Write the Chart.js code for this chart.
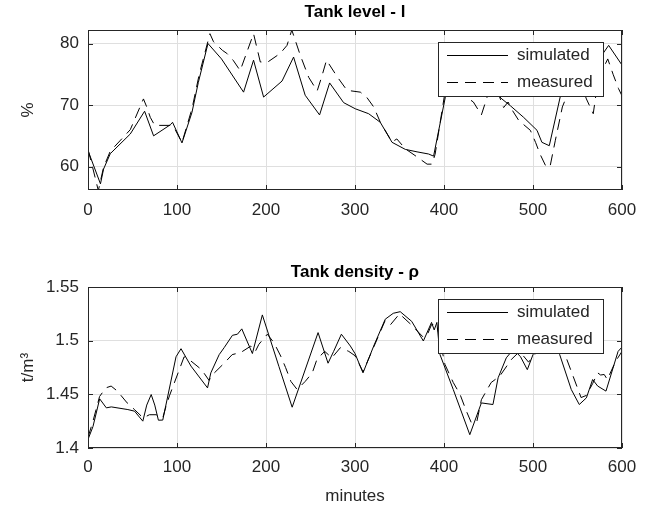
<!DOCTYPE html>
<html>
<head>
<meta charset="utf-8">
<script src="https://cdn.jsdelivr.net/npm/chart.js@4.4.1/dist/chart.umd.min.js"></script>
<style>
  body { margin: 0; background: #fff; }
  #wrap { position: relative; width: 660px; height: 512px; }
  canvas { position: absolute; left: 0; }
</style>
</head>
<body>
<div id="wrap">
  <canvas id="level-chart" width="660" height="256" style="top:0"></canvas>
  <canvas id="density-chart" width="660" height="255" style="top:257px"></canvas>
</div>
<script>
const minuteTicks = [0, 100, 200, 300, 400, 500, 600];
const levelTicks = [60, 70, 80];
const densityTicks = [1.4, 1.45, 1.5, 1.55];

// Tank level (%) - simulated
const levelSimT = [0, 14, 17.5, 25, 47.5, 63.6, 73.7, 92.5, 95, 105.6, 116.8, 124, 134.8, 150, 174.8, 186, 197.3, 218, 231, 244, 260.2, 271.5, 287.2, 300.3, 315.3, 328.4, 341.6, 356.5, 369.7, 382.7, 388.3, 401.5, 412, 425, 440, 455, 465, 474.5, 489.5, 504.5, 510, 518.3, 531, 545, 560, 572, 585, 600];
const levelSim  = [62.6, 57.2, 59.6, 62.1, 65.3, 69.0, 65.0, 66.8, 67.2, 63.85, 68.8, 73.7, 80.0, 77.5, 72.1, 77.3, 71.3, 73.9, 77.8, 71.6, 68.4, 73.6, 70.4, 69.4, 68.6, 67.2, 63.95, 62.8, 62.4, 62.05, 61.7, 71.3, 75, 74, 73, 72.5, 71, 69.9, 68.0, 65.9, 63.95, 63.4, 71.6, 76, 75, 77, 79.7, 76.5];

// Tank level (%) - measured
const levelMeasT = [0, 5, 11.6, 17.5, 25, 47.5, 62.3, 66, 70, 75, 94, 98, 105.6, 117, 125, 137, 141, 151, 156, 163, 171, 186, 193.6, 202, 216, 223.6, 229, 238.5, 248, 257.5, 263, 268, 280, 291, 306, 313, 321, 328.5, 341.6, 347, 356.5, 367.5, 381, 386.5, 390, 401, 413, 425, 433, 442, 450, 458, 467, 472, 477, 484, 497, 503, 508, 514, 519, 525, 533, 545, 555, 560, 567.7, 573, 579, 584, 590, 596, 600];
const levelMeas  = [62.8, 60, 56.1, 59.9, 62.5, 66, 71.0, 69.7, 68, 66.7, 66.7, 66, 63.9, 69.5, 75, 81.6, 80.3, 78.9, 78.4, 77.3, 75.6, 81.6, 77, 77, 78.4, 79.7, 82.2, 78.1, 74.5, 72.3, 74.8, 77.3, 74.6, 72.4, 72.1, 71.3, 69.7, 67.2, 64, 64.5, 62.9, 61.8, 60.4, 60.4, 62, 72, 74, 71.3, 70.5, 68.4, 72, 73, 69.6, 70.5, 69.1, 67.5, 65.9, 63.9, 62, 60.2, 59.9, 64.2, 69.7, 74, 73, 71, 68.6, 74, 76, 77.5, 75, 72.7, 71.5];

// Tank density (t/m3) - simulated
const densSimT = [0, 5.6, 13.1, 20.6, 26.2, 44.8, 52.3, 61.6, 66, 71, 75, 79.1, 84, 98.9, 104.5, 115.7, 134.3, 138, 147.4, 153, 162.3, 167.9, 172.8, 184.7, 195.9, 214.5, 229.4, 258.5, 269.7, 276, 284.7, 294.8, 300, 309, 321, 334, 343, 350.8, 363.7, 376.8, 386, 389, 392, 395.5, 410.4, 429, 442, 455, 460.8, 470, 478, 486, 493.6, 500, 515, 530, 543, 552, 560, 567, 572.7, 582, 595.6, 600];
const densSim  = [1.408, 1.420, 1.4458, 1.4374, 1.4383, 1.4358, 1.4343, 1.425, 1.44, 1.4498, 1.44, 1.4259, 1.426, 1.485, 1.4925, 1.4763, 1.456, 1.470, 1.487, 1.4935, 1.505, 1.506, 1.511, 1.488, 1.524, 1.476, 1.438, 1.5075, 1.479, 1.490, 1.506, 1.495, 1.488, 1.470, 1.495, 1.520, 1.5255, 1.527, 1.518, 1.4997, 1.517, 1.510, 1.517, 1.487, 1.4545, 1.4124, 1.442, 1.4405, 1.4654, 1.484, 1.492, 1.485, 1.473, 1.487, 1.505, 1.487, 1.4545, 1.4405, 1.4467, 1.4638, 1.4577, 1.453, 1.490, 1.494];

// Tank density (t/m3) - measured
const densMeasT = [0, 5.6, 13, 16, 20, 26, 33, 44, 52, 62, 69, 76.6, 84, 87.7, 91.5, 102.6, 108, 115.7, 127.6, 136, 142, 153, 162, 171.7, 183, 188, 192, 201.5, 209, 216.5, 222, 228, 235, 244, 252, 257.4, 266, 274, 283.6, 293, 300, 309, 321, 334, 340, 350, 363, 370, 377, 382, 386, 392, 401, 410.4, 418, 425, 431, 437, 442, 453, 462.7, 475.7, 485, 495, 505, 520, 536, 554, 560, 567, 572.7, 576, 580, 583.5, 593, 600];
const densMeas  = [1.41, 1.425, 1.448, 1.4514, 1.456, 1.4577, 1.453, 1.442, 1.436, 1.428, 1.431, 1.431, 1.428, 1.439, 1.4486, 1.473, 1.485, 1.481, 1.473, 1.463, 1.470, 1.479, 1.487, 1.489, 1.495, 1.490, 1.4966, 1.506, 1.498, 1.4857, 1.475, 1.462, 1.4545, 1.462, 1.470, 1.483, 1.490, 1.484, 1.4935, 1.490, 1.486, 1.471, 1.494, 1.519, 1.515, 1.525, 1.515, 1.509, 1.503, 1.507, 1.515, 1.515, 1.478, 1.461, 1.45, 1.4346, 1.423, 1.425, 1.445, 1.461, 1.467, 1.4825, 1.49, 1.48, 1.49, 1.505, 1.487, 1.447, 1.449, 1.46, 1.470, 1.468, 1.4685, 1.4638, 1.481, 1.49];

const FONT = 'Liberation Sans, Arial, Helvetica, sans-serif';
const AXIS_COLOR = '#262626';
const GRID_COLOR = '#dfdfdf';
const DASH = [11, 7];

const pairs = (xs, ys) => xs.map((x, i) => ({ x, y: ys[i] }));

// matlab style: full box, inward ticks on all sides, boxed legend inside the axes
const matlabAxes = {
  id: 'matlabAxes',
  afterDraw(chart) {
    const { ctx, chartArea: a, scales } = chart;
    ctx.save();
    ctx.strokeStyle = AXIS_COLOR;
    ctx.lineWidth = 1;
    ctx.setLineDash([]);
    ctx.strokeRect(a.left + 0.5, a.top + 0.5, a.right - a.left - 1, a.bottom - a.top - 1);

    const tl = 5;
    ctx.beginPath();
    scales.x.ticks.forEach(t => {
      const px = Math.round(scales.x.getPixelForValue(t.value)) + 0.5;
      ctx.moveTo(px, a.bottom); ctx.lineTo(px, a.bottom - tl);
      ctx.moveTo(px, a.top); ctx.lineTo(px, a.top + tl);
    });
    scales.y.ticks.forEach(t => {
      const py = Math.round(scales.y.getPixelForValue(t.value)) + 0.5;
      ctx.moveTo(a.left, py); ctx.lineTo(a.left + tl, py);
      ctx.moveTo(a.right, py); ctx.lineTo(a.right - tl, py);
    });
    ctx.stroke();

    // legend
    const w = 165, h = 54;
    const x0 = a.right - 19 - w, y0 = a.top + 12;
    ctx.fillStyle = '#fff';
    ctx.fillRect(x0, y0, w, h);
    ctx.strokeRect(x0 + 0.5, y0 + 0.5, w, h);
    ctx.font = '17px ' + FONT;
    ctx.textBaseline = 'middle';
    chart.data.datasets.forEach((ds, i) => {
      const y = Math.round(y0 + 13 + i * 27) + 0.5;
      ctx.strokeStyle = ds.borderColor;
      ctx.setLineDash(ds.borderDash || []);
      ctx.beginPath();
      ctx.moveTo(x0 + 9, y);
      ctx.lineTo(x0 + 70, y);
      ctx.stroke();
      ctx.fillStyle = AXIS_COLOR;
      ctx.fillText(ds.label, x0 + 79, y);
    });
    ctx.restore();
  }
};

function createChart(id, cfg) {
  const el = document.getElementById(id);
  return new Chart(el.getContext('2d'), {
    type: 'line',
    data: {
      datasets: [{
        label: 'simulated',
        data: pairs(cfg.simT, cfg.sim),
        borderColor: '#000',
        borderWidth: 1
      }, {
        label: 'measured',
        data: pairs(cfg.measT, cfg.meas),
        borderColor: '#000',
        borderWidth: 1,
        borderDash: DASH
      }]
    },
    options: {
      responsive: false,
      animation: false,
      devicePixelRatio: 1,
      elements: { point: { radius: 0 }, line: { tension: 0 } },
      layout: { padding: { left: 0, right: 38, top: 0, bottom: 0 } },
      plugins: {
        legend: { display: false },
        tooltip: { enabled: false },
        title: {
          display: true,
          text: cfg.title,
          fullSize: false,
          color: '#000',
          font: { family: FONT, size: 17, weight: 'bold' },
          padding: cfg.titlePad
        }
      },
      scales: {
        x: {
          type: 'linear',
          min: 0,
          max: 600,
          afterBuildTicks: s => { s.ticks = minuteTicks.map(v => ({ value: v })); },
          afterFit: s => { s.height = cfg.xHeight; },
          grid: { color: GRID_COLOR, drawTicks: false },
          border: { display: false },
          ticks: { color: AXIS_COLOR, padding: cfg.xTickPad, font: { family: FONT, size: 17 } },
          title: {
            display: !!cfg.xTitle,
            text: cfg.xTitle || '',
            color: AXIS_COLOR,
            font: { family: FONT, size: 17 },
            padding: { top: 0, bottom: 5 }
          }
        },
        y: {
          min: cfg.yMin,
          max: cfg.yMax,
          afterBuildTicks: s => { s.ticks = cfg.yTicks.map(v => ({ value: v })); },
          afterFit: s => { s.width = 88; },
          grid: { color: GRID_COLOR, drawTicks: false },
          border: { display: false },
          ticks: {
            color: AXIS_COLOR,
            padding: 9,
            font: { family: FONT, size: 17 },
            callback: v => String(v)
          },
          title: {
            display: true,
            text: cfg.yTitle,
            color: AXIS_COLOR,
            font: { family: FONT, size: 17 },
            padding: { top: 18, bottom: 0 }
          }
        }
      }
    },
    plugins: [matlabAxes]
  });
}

createChart('level-chart', {
  title: 'Tank level - l',
  titlePad: { top: 2, bottom: 7.6 },
  simT: levelSimT, sim: levelSim,
  measT: levelMeasT, meas: levelMeas,
  yMin: 56.2, yMax: 82.2, yTicks: levelTicks,
  yTitle: '%',
  xHeight: 66,
  xTickPad: 10
});

createChart('density-chart', {
  title: 'Tank density - ρ',
  titlePad: { top: 5, bottom: 4.6 },
  simT: densSimT, sim: densSim,
  measT: densMeasT, meas: densMeas,
  yMin: 1.4, yMax: 1.55, yTicks: densityTicks,
  yTitle: 't/m³',
  xTitle: 'minutes',
  xHeight: 64,
  xTickPad: 9
});
</script>
</body>
</html>
